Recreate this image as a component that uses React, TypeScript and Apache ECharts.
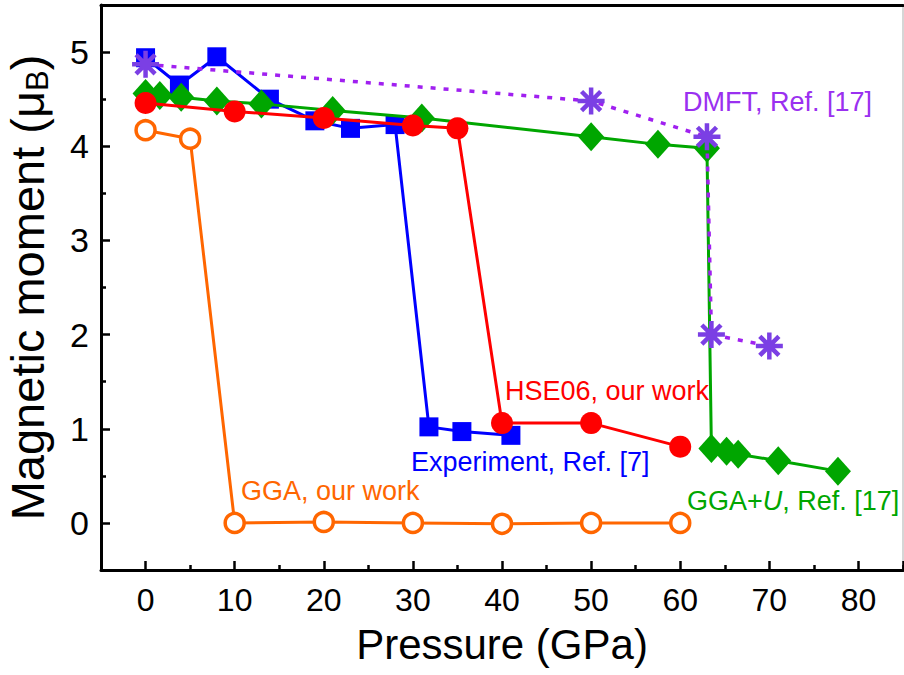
import React, { useEffect, useRef } from 'react';
import * as echarts from 'echarts';

// Pressure (GPa) and magnetic moment (μB)
const expP = [0, 3.8, 8, 13.9, 19, 23, 28, 31.8, 35.5, 41];
const expM = [4.94, 4.65, 4.95, 4.5, 4.27, 4.19, 4.23, 1.02, 0.97, 0.93];
const hseP = [0, 10, 20, 30, 35, 40, 50, 60];
const hseM = [4.46, 4.37, 4.3, 4.22, 4.19, 1.06, 1.06, 0.81];
const ggaP = [0, 5, 10, 20, 30, 40, 50, 60];
const ggaM = [4.17, 4.08, 0, 0.01, 0, -0.01, 0, 0];
const ggauP = [0, 1.6, 4, 8, 13, 21, 31, 50, 57.5, 63, 63.5, 65.2, 66.5, 71, 77.7];
const ggauM = [4.56, 4.54, 4.52, 4.48, 4.45, 4.38, 4.3, 4.1, 4.02, 3.98, 0.79, 0.76, 0.73, 0.66, 0.55];
const dmftP = [0, 50, 63, 63.5, 70];
const dmftM = [4.87, 4.48, 4.1, 2.0, 1.88];

const xRange = [-5, 85];
const yRange = [-0.5, 5.5];

const FONT = 'Liberation Sans, Arial, Helvetica, sans-serif';
const pairs = (xs: number[], ys: number[]) => xs.map((x, i) => [x, ys[i]]);

const STAR = 'path://M12,0L12,24M0,12L24,12M3.5,3.5L20.5,20.5M3.5,20.5L20.5,3.5';

export default function App() {
  const ref = useRef<HTMLDivElement>(null);
  useEffect(() => {
    document.body.style.margin = '0';
    const chart = echarts.init(ref.current!, null, { renderer: 'svg' });
    const gridPos = { left: 101, right: 1, top: 5, bottom: 105, containLabel: false, outerBoundsMode: 'none' };
    const option: any = {
      animation: false,
      backgroundColor: '#ffffff',
      grid: [{ ...gridPos }, { ...gridPos }],
      xAxis: [
        {
          type: 'value', gridIndex: 0, position: 'bottom',
          min: xRange[0], max: xRange[1], splitNumber: 9,
          axisLine: { show: true, onZero: false, lineStyle: { color: '#000', width: 3 } },
          axisTick: { show: true, inside: true, length: 9, lineStyle: { color: '#000', width: 2.5 } },
          axisLabel: {
            show: true, margin: 14, color: '#000', fontSize: 32, fontFamily: FONT,
            formatter: (v: number) => (Math.abs(v % 10) < 1e-9 ? String(v) : ''),
          },
          splitLine: { show: false },
          name: 'Pressure (GPa)', nameLocation: 'middle', nameGap: 53,
          nameTextStyle: { color: '#000', fontSize: 42, fontFamily: FONT },
        },
        {
          type: 'value', gridIndex: 0, position: 'top',
          min: xRange[0], max: xRange[1],
          axisLine: { show: true, onZero: false, lineStyle: { color: '#000', width: 3 } },
          axisTick: { show: false }, axisLabel: { show: false }, splitLine: { show: false },
        },
        {
          // minor ticks (offset scale: 0 here = -5 GPa)
          type: 'value', gridIndex: 1, position: 'bottom',
          min: 0, max: 90, interval: 10,
          axisLine: { show: false, onZero: false },
          axisTick: { show: true, inside: true, length: 5, lineStyle: { color: '#000', width: 2.5 } },
          axisLabel: { show: false }, splitLine: { show: false },
        },
      ],
      yAxis: [
        {
          type: 'value', gridIndex: 0, position: 'left',
          min: yRange[0], max: yRange[1], splitNumber: 6,
          axisLine: { show: true, onZero: false, lineStyle: { color: '#000', width: 3 } },
          axisTick: { show: true, inside: true, length: 9, lineStyle: { color: '#000', width: 2.5 } },
          axisLabel: {
            show: true, margin: 12, color: '#000', fontSize: 34, fontFamily: FONT,
            formatter: (v: number) => (Math.abs(v % 1) < 1e-9 ? String(v) : ''),
          },
          splitLine: { show: false },
          name: '{t|Magnetic moment (μ}{s|B}{t|)}', nameLocation: 'middle', nameGap: 48, nameRotate: 90,
          nameTextStyle: {
            color: '#000', fontFamily: FONT,
            rich: {
              t: { fontSize: 47, fontFamily: FONT, color: '#000', lineHeight: 52, verticalAlign: 'middle' },
              s: { fontSize: 31, fontFamily: FONT, color: '#000', lineHeight: 31, verticalAlign: 'bottom' },
            },
          },
        },
        {
          type: 'value', gridIndex: 0, position: 'right',
          min: yRange[0], max: yRange[1],
          axisLine: { show: true, onZero: false, lineStyle: { color: '#c8c8c8', width: 1.5 } },
          axisTick: { show: false }, axisLabel: { show: false }, splitLine: { show: false },
        },
        {
          // minor ticks (offset scale: 0 here = -0.5 μB)
          type: 'value', gridIndex: 1, position: 'left',
          min: 0, max: 6, interval: 1,
          axisLine: { show: false, onZero: false },
          axisTick: { show: true, inside: true, length: 5, lineStyle: { color: '#000', width: 2.5 } },
          axisLabel: { show: false }, splitLine: { show: false },
        },
      ],
      series: [
        {
          name: 'GGA, our work', type: 'line', xAxisIndex: 0, yAxisIndex: 0,
          data: pairs(ggaP, ggaM), symbol: 'circle', symbolSize: 19,
          lineStyle: { color: '#FF6600', width: 3 },
          itemStyle: { color: '#ffffff', borderColor: '#FF6600', borderWidth: 3.5 },
          z: 2,
        },
        {
          name: 'Experiment, Ref. [7]', type: 'line', xAxisIndex: 0, yAxisIndex: 0,
          data: pairs(expP, expM), symbol: 'rect', symbolSize: 19,
          lineStyle: { color: '#0000FF', width: 3 },
          itemStyle: { color: '#0000FF' },
          z: 3,
        },
        {
          name: 'GGA+U, Ref. [17]', type: 'line', xAxisIndex: 0, yAxisIndex: 0,
          data: pairs(ggauP, ggauM), symbol: 'diamond', symbolSize: [26, 29],
          lineStyle: { color: '#00A600', width: 3 },
          itemStyle: { color: '#00A600' },
          z: 4,
        },
        {
          name: 'HSE06, our work', type: 'line', xAxisIndex: 0, yAxisIndex: 0,
          data: pairs(hseP, hseM), symbol: 'circle', symbolSize: 22,
          lineStyle: { color: '#FF0000', width: 3 },
          itemStyle: { color: '#FF0000' },
          z: 5,
        },
        {
          name: 'DMFT, Ref. [17]', type: 'line', xAxisIndex: 0, yAxisIndex: 0,
          data: pairs(dmftP, dmftM), symbol: STAR, symbolSize: 27,
          lineStyle: { color: '#A020F0', width: 3.5, type: [5, 8] },
          itemStyle: { color: 'rgba(0,0,0,0)', borderColor: '#7B3FE4', borderWidth: 4.5 },
          z: 6,
        },
      ],
      graphic: [
        { type: 'text', x: 683, y: 102, z: 100, style: { text: 'DMFT, Ref. [17]', fill: '#9A30F0', font: `27px ${FONT}`, align: 'left', verticalAlign: 'middle' } },
        { type: 'text', x: 505, y: 391, z: 100, style: { text: 'HSE06, our work', fill: '#FF0000', font: `27px ${FONT}`, align: 'left', verticalAlign: 'middle' } },
        { type: 'text', x: 411, y: 462, z: 100, style: { text: 'Experiment, Ref. [7]', fill: '#0000FF', font: `27px ${FONT}`, align: 'left', verticalAlign: 'middle' } },
        { type: 'text', x: 241, y: 491, z: 100, style: { text: 'GGA, our work', fill: '#FF6600', font: `27px ${FONT}`, align: 'left', verticalAlign: 'middle' } },
        {
          type: 'text', x: 687, y: 501, z: 100,
          style: {
            text: '{a|GGA+}{b|U}{a|, Ref. [17]}', align: 'left', verticalAlign: 'middle',
            rich: {
              a: { fill: '#00A600', fontSize: 27, fontFamily: FONT },
              b: { fill: '#00A600', fontSize: 27, fontFamily: FONT, fontStyle: 'italic' },
            },
          },
        },
      ],
    };
    chart.setOption(option);
    return () => chart.dispose();
  }, []);
  return <div ref={ref} style={{ width: 904, height: 675 }} />;
}
